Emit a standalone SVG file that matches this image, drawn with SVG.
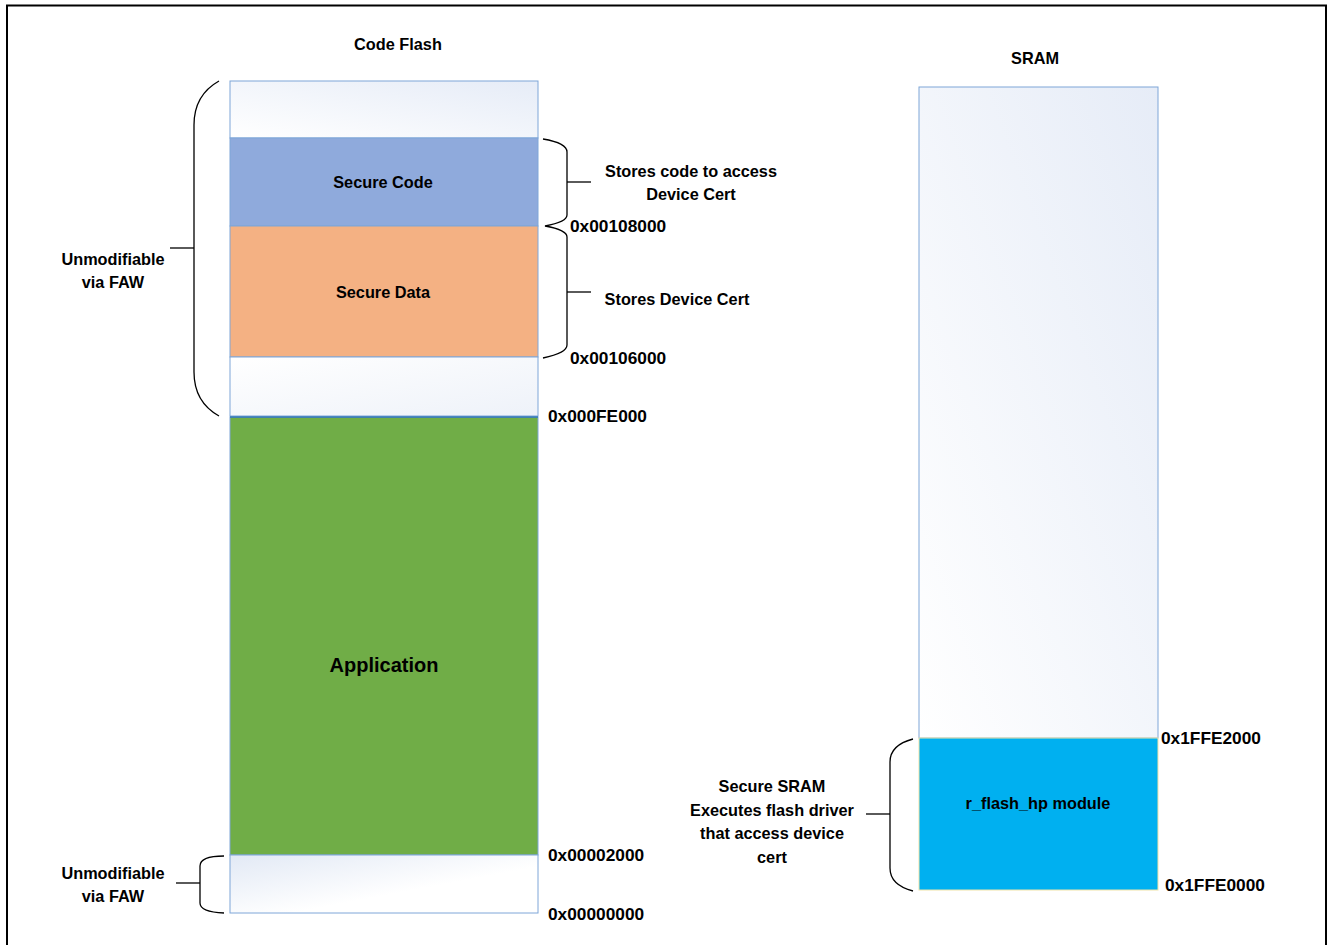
<svg xmlns="http://www.w3.org/2000/svg" width="1328" height="945" viewBox="0 0 1328 945">
<style>
text{font-family:"Liberation Sans",Arial,sans-serif;font-weight:bold;fill:#000;font-size:16.3px;text-anchor:middle;dominant-baseline:central}
.addr{text-anchor:start;font-size:17.3px}
.brace{fill:none;stroke:#000;stroke-width:1.3}
.box{stroke:#7EA6D8;stroke-width:1}
</style>
<defs>
<linearGradient id="gTop" x1="0" y1="1" x2="1" y2="0">
<stop offset="0" stop-color="#FFFFFF"/><stop offset="1" stop-color="#E6ECF7"/>
</linearGradient>
<linearGradient id="gWhite" x1="0" y1="0" x2="1" y2="1">
<stop offset="0" stop-color="#FFFFFF"/><stop offset="1" stop-color="#EEF2F9"/>
</linearGradient>
<linearGradient id="gBot" x1="0" y1="0" x2="1" y2="1">
<stop offset="0" stop-color="#E2E9F5"/><stop offset="0.6" stop-color="#FFFFFF"/><stop offset="1" stop-color="#FFFFFF"/>
</linearGradient>
<linearGradient id="gSram" x1="0" y1="1" x2="1" y2="0">
<stop offset="0" stop-color="#FFFFFF"/><stop offset="1" stop-color="#E6ECF7"/>
</linearGradient>
</defs>
<rect width="1328" height="945" fill="#FFFFFF"/>
<path d="M7 945 V5.5 H1326 V945" fill="none" stroke="#000" stroke-width="2"/>

<g id="code-flash">
<text x="398" y="44">Code Flash</text>
<rect id="flash-top" class="box" x="230" y="81" width="308" height="57" fill="url(#gTop)"/>
<g id="secure-code"><rect class="box" x="230" y="138" width="308" height="88" fill="#8FAADC"/><text x="383" y="182">Secure Code</text></g>
<g id="secure-data"><rect class="box" x="230" y="226" width="308" height="131" fill="#F4B183"/><text x="383" y="292">Secure Data</text></g>
<rect id="flash-gap" class="box" x="230" y="357" width="308" height="59" fill="url(#gWhite)"/>
<g id="application"><rect class="box" x="230" y="417" width="308" height="438" fill="#70AD47"/><line x1="230" y1="417" x2="538" y2="417" stroke="#2E75B6" stroke-width="1.5"/><text x="384" y="665" style="font-size:20px">Application</text></g>
<rect id="flash-bottom" class="box" x="230" y="855" width="308" height="58" fill="url(#gBot)"/>
</g>

<g id="sram">
<text x="1035" y="58">SRAM</text>
<rect class="box" x="919" y="87" width="239" height="651" fill="url(#gSram)"/>
<g id="secure-sram"><rect x="919" y="738" width="239" height="152" fill="#00B0F0" stroke="#EFE3A8" stroke-width="1"/><text x="1038" y="803">r_flash_hp module</text></g>
</g>

<g id="connectors">
<path class="brace" d="M219 81 Q194 95 194 125 V372 Q194 402 219 416"/>
<line class="brace" x1="170" y1="248" x2="194" y2="248"/>
<path class="brace" d="M543 139 Q567 143 567 152 V215 Q567 222 545 226 Q567 230 567 237 V345 Q567 353 543 358"/>
<line class="brace" x1="567" y1="182" x2="591" y2="182"/>
<line class="brace" x1="567" y1="292" x2="591" y2="292"/>
<path class="brace" d="M224 856 Q200 856 200 866 V903 Q200 912 224 913"/>
<line class="brace" x1="176" y1="883" x2="200" y2="883"/>
<path class="brace" d="M913 739 Q890 745 890 762 V868 Q890 885 913 891"/>
<line class="brace" x1="866" y1="814" x2="890" y2="814"/>
</g>

<g id="labels">
<text x="113" y="259">Unmodifiable</text>
<text x="113" y="282">via FAW</text>
<text x="113" y="873">Unmodifiable</text>
<text x="113" y="896">via FAW</text>
<text x="691" y="171">Stores code to access</text>
<text x="691" y="194">Device Cert</text>
<text x="677" y="299">Stores Device Cert</text>
<text x="772" y="786">Secure SRAM</text>
<text x="772" y="810">Executes flash driver</text>
<text x="772" y="833">that access device</text>
<text x="772" y="857">cert</text>
<text class="addr" x="570" y="226">0x00108000</text>
<text class="addr" x="570" y="358">0x00106000</text>
<text class="addr" x="548" y="416">0x000FE000</text>
<text class="addr" x="548" y="855">0x00002000</text>
<text class="addr" x="548" y="914">0x00000000</text>
<text class="addr" x="1161" y="738">0x1FFE2000</text>
<text class="addr" x="1165" y="885">0x1FFE0000</text>
</g>
</svg>
